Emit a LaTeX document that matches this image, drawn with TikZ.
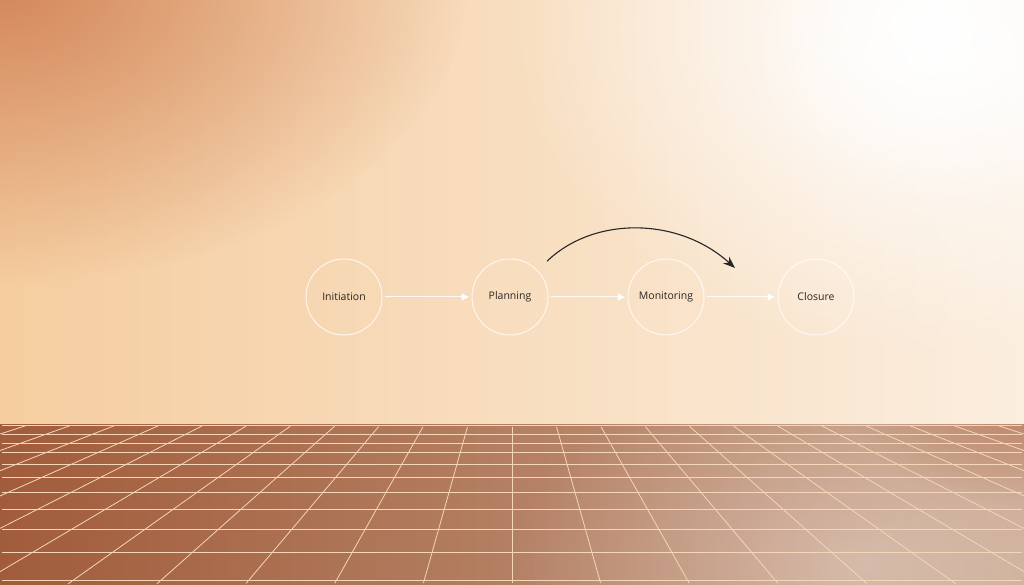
\documentclass[tikz,border=0pt]{standalone}
\usepackage{fontspec}
\setmainfont{Open Sans}
\usetikzlibrary{positioning,arrows.meta,fadings}
\definecolor{wallL}{HTML}{F5CD9F}
\definecolor{wallR}{HTML}{FBEEDF}
\definecolor{wallOrange}{HTML}{D3875B}
\definecolor{floorL}{HTML}{A15C3B}
\definecolor{floorR}{HTML}{C7A28A}
\definecolor{floorD}{HTML}{B97A5C}
\definecolor{gridC}{HTML}{F4D6B8}
\definecolor{textC}{HTML}{2A2623}
\tikzfading[name=soft glow, inner color=transparent!0, outer color=transparent!100]
\tikzset{
	roadmap/.style={x=1pt,y=1pt,>=Stealth,shorten >=2pt,shorten <=2pt,
		semithick},
	stage/.style={circle,draw=white,draw opacity=0.75,line width=1pt,
		minimum size=76pt,inner sep=0pt,text=textC,
		font=\fontsize{10.5}{12}\selectfont},
	flow/.style={->,draw=white,draw opacity=0.85,line width=1pt,
		-{Latex[length=8pt,width=8pt]}},
	jump/.style={draw=black!85,line width=1.1pt,
		-{Stealth[length=12pt,width=9pt]}},
	gridline/.style={draw=gridC,line width=0.8pt}
}

\begin{document}
\begin{tikzpicture}[roadmap]
	\useasboundingbox (0,0) rectangle (1024,585);
	
	% wall
	\shade[left color=wallL,right color=wallR] (0,160) rectangle (1024,585);
	\begin{scope}
		\clip (0,160) rectangle (1024,585);
		\fill[wallOrange,path fading=soft glow] (0,600) ellipse (470 and 300);
		\fill[white,path fading=soft glow] (930,560) ellipse (420 and 330);
		\fill[white,opacity=0.8,path fading=soft glow] (940,530) ellipse (200 and 160);
	\end{scope}
	
	% floor
	\shade[left color=floorL,right color=floorR] (0,0) rectangle (1024,160);
	\begin{scope}
		\clip (0,0) rectangle (1024,160);
		\fill[white,opacity=0.35,path fading=soft glow] (860,20) ellipse (360 and 200);
		\fill[floorD,opacity=0.7,path fading=soft glow] (1024,170) ellipse (170 and 90);
		\foreach \y in {160,151,142,133,121,108,93,76,56,33,5}
			\draw[gridline] (0,\y) -- (1024,\y);
		\foreach \n in {-12,...,12}
			\draw[gridline] ({512+44*\n},160) -- ({512+89.1*\n},0);
	\end{scope}
	
	% stages
	\node[stage] (i) at (344,288) {Initiation};
	\node[stage] (p) [right=89pt of i] {Planning};
	\node[stage] (m) [right=79pt of p] {Monitoring};
	\node[stage] (c) [right=73pt of m] {Closure};
	\coordinate (tip) at (735,317);
	
	\path (i) edge[flow] (p);
	\path (p) edge[flow] (m);
	\path (m) edge[flow] (c);
	\draw[jump,shorten <=13pt,shorten >=0pt] (p) to[out=44,in=138] (tip);
\end{tikzpicture}
\end{document}
